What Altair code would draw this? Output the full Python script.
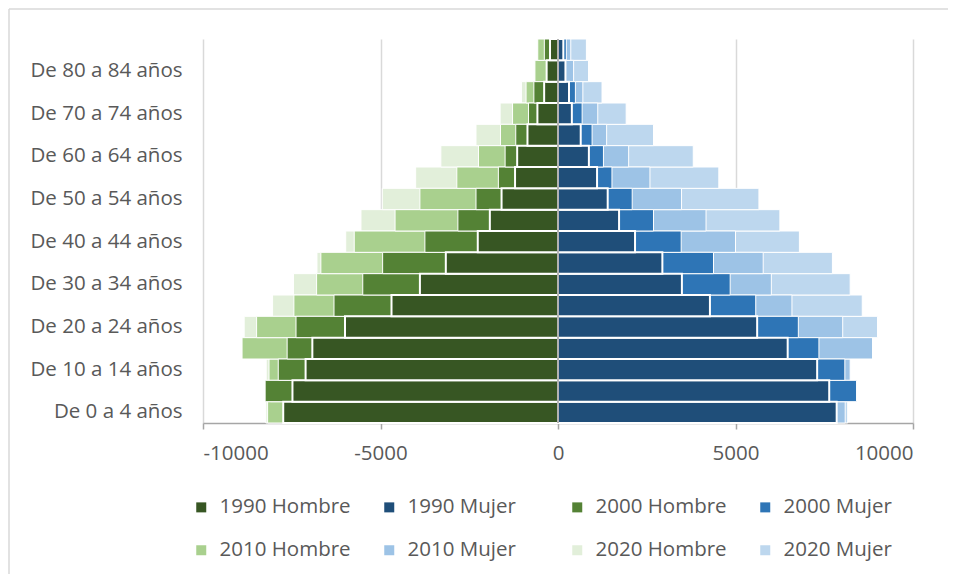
import altair as alt
import pandas as pd

# Age groups, bottom (youngest) to top (oldest)
ages = [
    "De 0 a 4 años", "De 5 a 9 años", "De 10 a 14 años", "De 15 a 19 años",
    "De 20 a 24 años", "De 25 a 29 años", "De 30 a 34 años", "De 35 a 39 años",
    "De 40 a 44 años", "De 45 a 49 años", "De 50 a 54 años", "De 55 a 59 años",
    "De 60 a 64 años", "De 65 a 69 años", "De 70 a 74 años", "De 75 a 79 años",
    "De 80 a 84 años", "De 85 y más años",
]
shown_labels = ages[0:17:2]

hombre_1990 = [7740, 7480, 7110, 6920, 6000, 4690, 3890, 3160, 2260, 1920, 1590, 1210, 1150, 860, 580, 390, 320, 225]
hombre_2000 = [7600, 8250, 7880, 7630, 7380, 6310, 5500, 4940, 3750, 2820, 2310, 1680, 1490, 1190, 830, 680, 300, 385]
hombre_2010 = [8180, 8100, 8140, 8900, 8490, 7440, 6800, 6680, 5740, 4590, 3890, 2850, 2240, 1620, 1280, 900, 650, 570]
hombre_2020 = [8230, 8000, 8220, 8700, 8840, 8040, 7450, 6790, 5980, 5550, 4950, 4010, 3300, 2310, 1630, 1030, 620, 540]

mujer_1990 = [7850, 7640, 7300, 6470, 5610, 4280, 3490, 2940, 2170, 1720, 1400, 1100, 870, 640, 390, 310, 210, 150]
mujer_2000 = [7700, 8410, 8080, 7350, 6770, 5570, 4850, 4380, 3470, 2690, 2090, 1520, 1280, 960, 680, 490, 190, 235]
mujer_2010 = [8090, 8200, 8230, 8860, 8020, 6590, 6010, 5780, 5000, 4170, 3480, 2590, 1990, 1370, 1120, 700, 440, 360]
mujer_2020 = [8160, 8000, 8150, 8700, 9000, 8570, 8230, 7730, 6800, 6250, 5660, 4530, 3810, 2690, 1920, 1240, 860, 800]

series_order = ["1990 Hombre", "1990 Mujer", "2000 Hombre", "2000 Mujer",
                "2010 Hombre", "2010 Mujer", "2020 Hombre", "2020 Mujer"]
series_colors = ["#375623", "#1F4E79", "#548235", "#2E75B6",
                 "#A9D08E", "#9DC3E6", "#E2EFDA", "#BDD7EE"]

data = {
    (1990, "Hombre"): hombre_1990, (1990, "Mujer"): mujer_1990,
    (2000, "Hombre"): hombre_2000, (2000, "Mujer"): mujer_2000,
    (2010, "Hombre"): hombre_2010, (2010, "Mujer"): mujer_2010,
    (2020, "Hombre"): hombre_2020, (2020, "Mujer"): mujer_2020,
}
rows = []
for (year, sex), vals in data.items():
    for age, v in zip(ages, vals):
        rows.append({"age": age, "year": year, "series": f"{year} {sex}",
                     "value": -v if sex == "Hombre" else v})
df = pd.DataFrame(rows)

FONT = "Open Sans"
TXT = "#595959"
FS = 20.5

x_axis = alt.Axis(values=[-10000, -5000, 0, 5000, 10000], labelExpr="'' + datum.value",
                  title=None,
                  grid=True, gridColor="#d9d9d9", gridWidth=1.5,
                  domainColor="#a6a6a6", domainWidth=1.5, tickColor="#a6a6a6",
                  tickWidth=1.5, tickSize=6, labelPadding=14, labelFontSize=FS,
                  labelColor=TXT, labelFont=FONT)
x_scale = alt.Scale(domain=[-10000, 10000], nice=False)
y_enc = alt.Y("age:N", sort=list(reversed(ages)),
              scale=alt.Scale(paddingInner=0, paddingOuter=0),
              axis=alt.Axis(values=shown_labels, ticks=False, domain=False, grid=False,
                            labelPadding=21, labelFontSize=FS, labelColor=TXT,
                            labelFont=FONT, title=None))
color_enc = alt.Color("series:N",
                      scale=alt.Scale(domain=series_order, range=series_colors),
                      legend=alt.Legend(orient="none", direction="horizontal",
                                        legendX=-12, legendY=458, columns=4,
                                        gridAlign="all", columnPadding=28, rowPadding=22,
                                        symbolType="square", symbolSize=100,
                                        symbolStrokeWidth=0, labelOffset=8,
                                        labelFontSize=FS, labelColor=TXT, labelFont=FONT,
                                        title=None))

layers = []
for year in [2020, 2010, 2000, 1990]:
    layers.append(
        alt.Chart(df[df["year"] == year])
        .mark_bar(stroke="white", strokeWidth=2 if year == 1990 else 1)
        .encode(x=alt.X("value:Q", scale=x_scale, axis=x_axis), y=y_enc, color=color_enc)
    )

zero = (alt.Chart(pd.DataFrame({"value": [0]}))
        .mark_rule(color="#b4b4b4", strokeWidth=2)
        .encode(x=alt.X("value:Q", scale=x_scale, axis=x_axis)))

frame_df = pd.DataFrame({"k": [0]})
frame_top = alt.Chart(frame_df).mark_rule(color="#d9d9d9", strokeWidth=1.5).encode(
    x=alt.value(-194), x2=alt.value(745), y=alt.value(-30))
frame_left = alt.Chart(frame_df).mark_rule(color="#d9d9d9", strokeWidth=1.5).encode(
    x=alt.value(-194), y=alt.value(-30), y2=alt.value(535))

chart = alt.layer(*layers, zero, frame_top, frame_left).properties(
    width=710, height=384, padding={"left": 0, "top": 0, "right": 0, "bottom": 0}
).configure_view(stroke=None)

chart.save("out.html", embed_options={"renderer": "svg", "actions": False})
